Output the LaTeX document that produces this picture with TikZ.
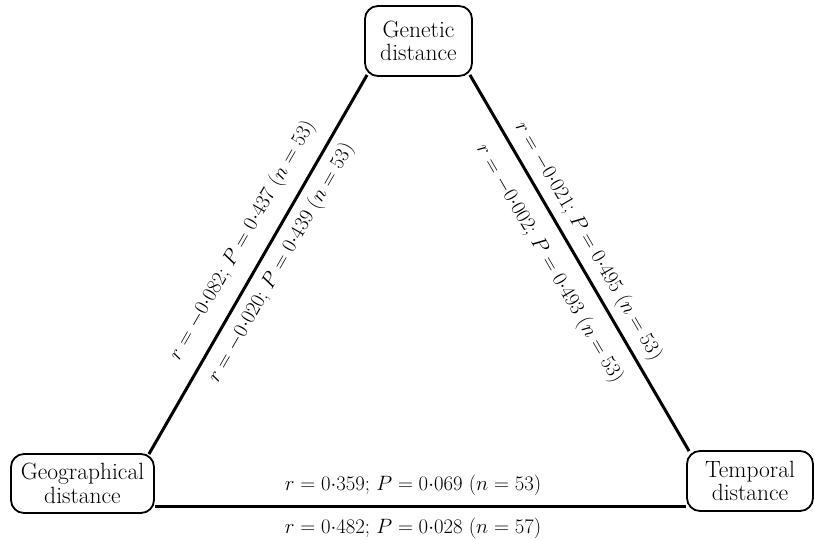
\documentclass[tikz,border=0pt]{standalone}
\usetikzlibrary{calc}
\begin{document}
\begin{tikzpicture}[x=1pt,y=-1pt,
  box/.style={draw, line width=1.8pt, rounded corners=13pt, fill=white, align=center, inner sep=0pt, font=\fontsize{23.5}{23.5}\selectfont},
  link/.style={line width=3pt},
  lbl/.style={font=\fontsize{20.8}{23}\selectfont, inner sep=0pt}]
\useasboundingbox (0,0) rectangle (814,540);
\node[box, minimum width=107pt, minimum height=70pt] (gen) at (418.5,41) {Genetic\\distance};
\node[box, minimum width=143pt, minimum height=59pt] (geo) at (82.5,483.5) {Geographical\\distance};
\node[box, minimum width=126pt, minimum height=60pt] (tem) at (750,481) {Temporal\\distance};
\coordinate (gu) at ($(gen.south west)+(3,-2)$);
\coordinate (gl) at ($(geo.north east)+(-6,1)$);
\coordinate (tu) at ($(gen.south east)+(-3,-2)$);
\coordinate (tl) at ($(tem.north west)+(3,1)$);
\coordinate (b1) at ($(geo.south east)+(0,-7)$);
\coordinate (b2) at (tem.west |- b1);
\draw[link] (gl) -- (gu)
  node[lbl, sloped, pos=0.53, above=13.5pt] {$r = -0{\cdot}082$; $P = 0{\cdot}437$ ($n = 53$)}
  node[lbl, sloped, pos=0.53, below=7.5pt] {$r = -0{\cdot}020$; $P = 0{\cdot}439$ ($n = 53$)};
\draw[link] (tu) -- (tl)
  node[lbl, sloped, pos=0.467, above=6.5pt] {$r = -0{\cdot}021$; $P = 0{\cdot}495$ ($n = 53$)}
  node[lbl, sloped, pos=0.467, below=14.5pt] {$r = -0{\cdot}002$; $P = 0{\cdot}493$ ($n = 53$)};
\draw[link] (b1) -- (b2)
  node[lbl, pos=0.486, above=9.5pt] {$r = 0{\cdot}359$; $P = 0{\cdot}069$ ($n = 53$)}
  node[lbl, pos=0.486, below=9.5pt] {$r = 0{\cdot}482$; $P = 0{\cdot}028$ ($n = 57$)};
\end{tikzpicture}
\end{document}
